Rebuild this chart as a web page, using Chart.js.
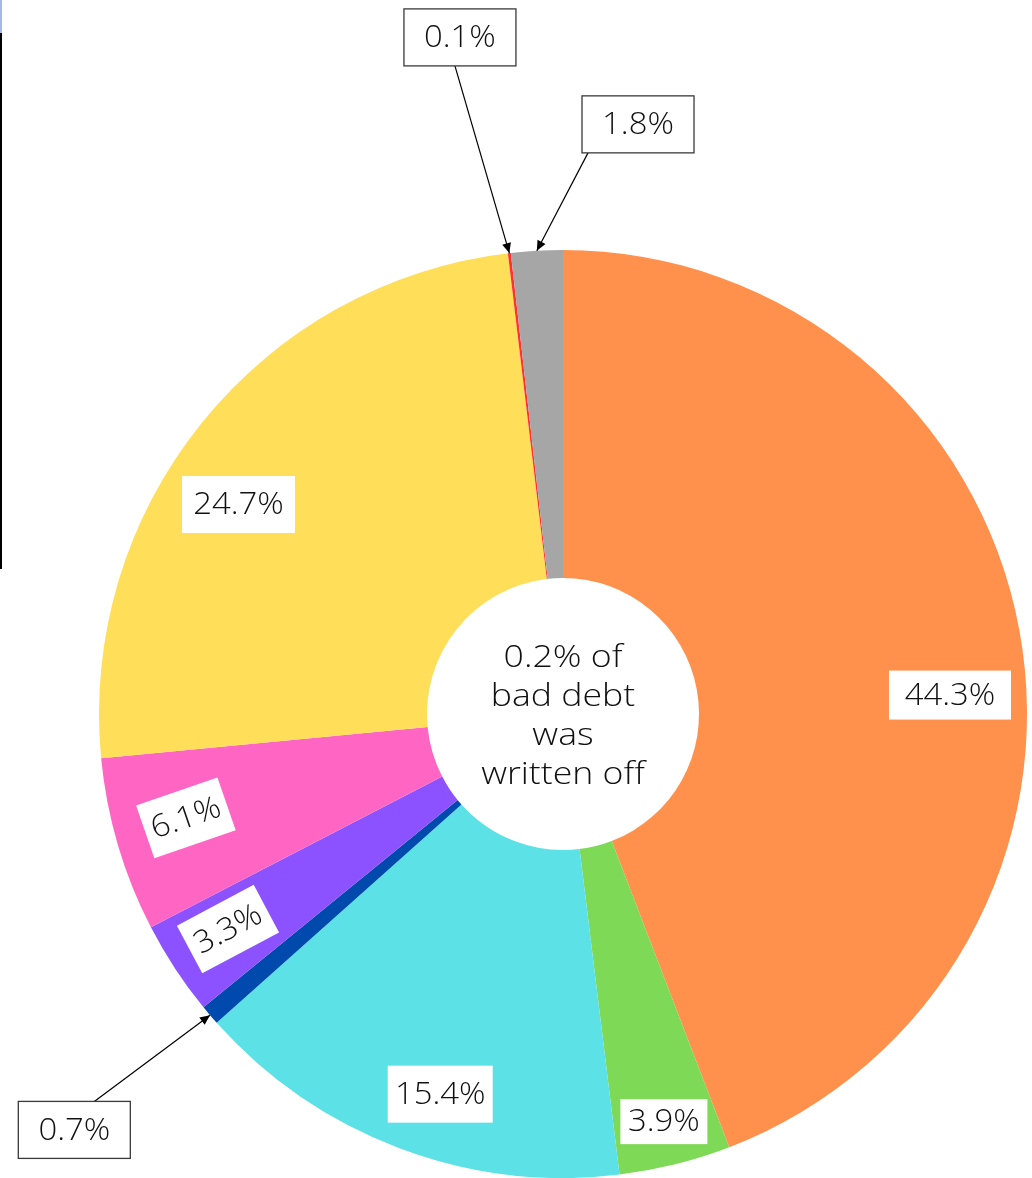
<!DOCTYPE html>
<html>
<head>
<meta charset="utf-8">
<script src="https://cdn.jsdelivr.net/npm/chart.js@4.4.1/dist/chart.umd.min.js"></script>
<style>
  body { margin: 0; background: #fff; }
  #wrap { position: relative; width: 1032px; height: 1178px; }
  #edgeBlue { position: absolute; left: 0; top: 0; width: 2px; height: 33px; background: #a7b9e3; }
  #edgeLine { position: absolute; left: 0; top: 33px; width: 2px; height: 536px; background: #000; }
</style>
</head>
<body>
<div id="wrap">
  <canvas id="debtChart" width="1032" height="1178"></canvas>
  <div id="edgeBlue"></div>
  <div id="edgeLine"></div>
</div>
<script>
// data, clockwise from 12 o'clock
const categories = ['Segment A', 'Segment B', 'Segment C', 'Segment D', 'Segment E',
                    'Segment F', 'Segment G', 'Segment H', 'Segment I'];
const shares = [44.3, 3.9, 15.4, 0.7, 3.3, 6.1, 24.7, 0.1, 1.8];
const centreText = ['0.2% of', 'bad debt', 'was', 'written off'];

const colours = ['#FF914D', '#7ED957', '#5CE1E6', '#004AAD', '#8C52FF',
                 '#FF66C4', '#FFDE59', '#FF3131', '#A6A6A6'];

// where each label box sits: angle (deg, clockwise from 3 o'clock), distance as share of radius
const labelLayout = [
    { angle: -2.8,   r: 0.835, w: 122, h: 49 },
    { angle: 76.1,   r: 0.905, w: 87,  h: 45 },
    { angle: 107.9,  r: 0.861, w: 105, h: 57 },
    { angle: 139.6,  r: 1.383, w: 112, h: 57, callout: { dx: 20, dy: -28.5 } },
    { angle: 147.3,  r: 0.858, w: 87,  h: 54, rot: -28 },
    { angle: 164.6,  r: 0.843, w: 86,  h: 56, rot: -19 },
    { angle: 212.85, r: 0.8325, w: 113, h: 57 },
    { angle: 261.34, r: 1.475, w: 112, h: 57, callout: { dx: -5, dy: 28.5 } },
    { angle: 277.25, r: 1.281, w: 112, h: 57, callout: { dx: -50, dy: 28.5 } }
];

const FONT = '300 31px "Open Sans", sans-serif';

// draw text stretched a bit sideways, the original face is wider than Open Sans
function wideText(ctx, text, x, y, sx) {
    ctx.save();
    ctx.translate(x, y);
    ctx.scale(sx, 1);
    ctx.fillText(text, 0, 0);
    ctx.restore();
}

const labelsPlugin = {
    id: 'boxLabels',
    afterDatasetsDraw(chart) {
        const ctx = chart.ctx;
        const arcs = chart.getDatasetMeta(0).data;
        ctx.save();
        ctx.font = FONT;
        arcs.forEach((arc, i) => {
            const lay = labelLayout[i];
            const R = arc.outerRadius;
            const a = lay.angle * Math.PI / 180;
            const bx = arc.x + Math.cos(a) * R * lay.r;
            const by = arc.y + Math.sin(a) * R * lay.r;

            if (lay.callout) {
                const mid = (arc.startAngle + arc.endAngle) / 2;
                const tx = arc.x + Math.cos(mid) * R;
                const ty = arc.y + Math.sin(mid) * R;
                const sx = bx + lay.callout.dx;
                const sy = by + lay.callout.dy;
                ctx.strokeStyle = '#000';
                ctx.lineWidth = 1.2;
                ctx.beginPath();
                ctx.moveTo(sx, sy);
                ctx.lineTo(tx, ty);
                ctx.stroke();
                // arrow head
                const ang = Math.atan2(ty - sy, tx - sx);
                ctx.fillStyle = '#000';
                ctx.beginPath();
                ctx.moveTo(tx, ty);
                ctx.lineTo(tx - 10 * Math.cos(ang) + 4.5 * Math.sin(ang), ty - 10 * Math.sin(ang) - 4.5 * Math.cos(ang));
                ctx.lineTo(tx - 10 * Math.cos(ang) - 4.5 * Math.sin(ang), ty - 10 * Math.sin(ang) + 4.5 * Math.cos(ang));
                ctx.closePath();
                ctx.fill();
            }

            ctx.save();
            ctx.translate(bx, by);
            if (lay.rot) ctx.rotate(lay.rot * Math.PI / 180);
            ctx.fillStyle = '#fff';
            ctx.fillRect(-lay.w / 2, -lay.h / 2, lay.w, lay.h);
            if (lay.callout) {
                ctx.strokeStyle = '#3a3a3a';
                ctx.lineWidth = 1.3;
                ctx.strokeRect(-lay.w / 2, -lay.h / 2, lay.w, lay.h);
            }
            ctx.fillStyle = '#111';
            ctx.textAlign = 'center';
            ctx.textBaseline = 'middle';
            wideText(ctx, shares[i].toFixed(1) + '%', 0, 1, 1.06);
            ctx.restore();
        });

        // text in the hole
        const c = arcs[0];
        ctx.fillStyle = '#111';
        ctx.textAlign = 'center';
        ctx.textBaseline = 'alphabetic';
        centreText.forEach((line, k) => {
            wideText(ctx, line, c.x, c.y - 47 + k * 39, 1.15);
        });
        ctx.restore();
    }
};

new Chart(document.getElementById('debtChart'), {
    type: 'doughnut',
    data: {
        labels: categories,
        datasets: [{
            data: shares,
            backgroundColor: colours,
            borderWidth: 0
        }]
    },
    options: {
        responsive: false,
        animation: false,
        cutout: 136,
        layout: { padding: { left: 99, right: 5, top: 250, bottom: 0 } },
        plugins: {
            legend: { display: false },
            tooltip: { enabled: false }
        }
    },
    plugins: [labelsPlugin]
});
</script>
</body>
</html>
